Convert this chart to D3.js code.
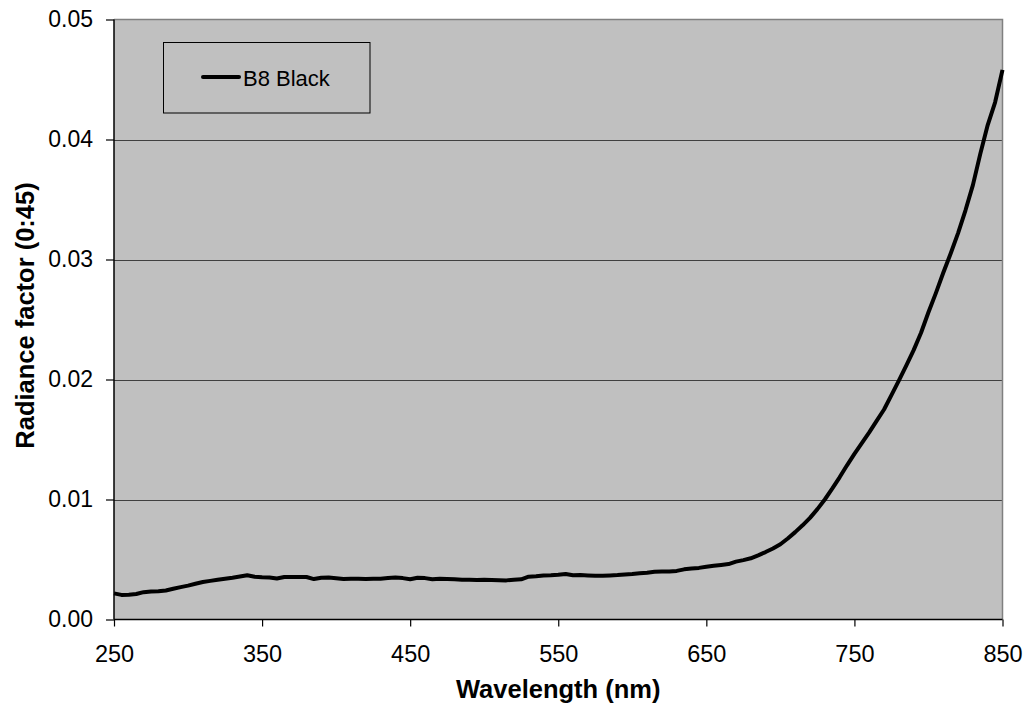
<!DOCTYPE html>
<html>
<head>
<meta charset="utf-8">
<script src="https://cdn.jsdelivr.net/npm/d3@7"></script>
<style>
  html, body { margin: 0; padding: 0; background: #fff; }
  svg { display: block; }
  text { font-family: "Liberation Sans", Arial, sans-serif; fill: #000; }
</style>
</head>
<body>
<svg id="chart" width="1027" height="713"></svg>
<script>
// ---- Data ----
const wavelengths = d3.range(250, 851, 5);
const radiance = [
  0.00218, 0.00205, 0.00207, 0.00212, 0.00228, 0.00234, 0.00235, 0.00242, 0.00256, 0.00270,
  0.00282, 0.00298, 0.00312, 0.00322, 0.00332, 0.00340, 0.00348, 0.00358, 0.00368, 0.00357,
  0.00352, 0.00350, 0.00342, 0.00354, 0.00354, 0.00355, 0.00354, 0.00337, 0.00348, 0.00350,
  0.00344, 0.00337, 0.00340, 0.00340, 0.00338, 0.00340, 0.00340, 0.00345, 0.00350, 0.00345,
  0.00335, 0.00348, 0.00345, 0.00335, 0.00340, 0.00338, 0.00335, 0.00332, 0.00332, 0.00330,
  0.00332, 0.00330, 0.00328, 0.00326, 0.00332, 0.00335, 0.00357, 0.00360, 0.00366, 0.00368,
  0.00372, 0.00379, 0.00368, 0.00370, 0.00367, 0.00365, 0.00365, 0.00367, 0.00370, 0.00375,
  0.00379, 0.00385, 0.00390, 0.00398, 0.00400, 0.00400, 0.00405, 0.00418, 0.00425, 0.00430,
  0.00440, 0.00448, 0.00455, 0.00462, 0.00482, 0.00495, 0.00510, 0.00535, 0.00562, 0.00592,
  0.00627, 0.00675, 0.00728, 0.00785, 0.00847, 0.00920, 0.01000, 0.01090, 0.01185, 0.01285,
  0.01380, 0.01470, 0.01560, 0.01655, 0.01750, 0.01870, 0.01990, 0.02115, 0.02245, 0.02390,
  0.02560, 0.02720, 0.02890, 0.03050, 0.03220, 0.03410, 0.03620, 0.03880, 0.04120, 0.04310,
  0.04580
];
const xTicks = [250, 350, 450, 550, 650, 750, 850];
const yTicks = [0, 0.01, 0.02, 0.03, 0.04, 0.05];
const seriesName = "B8 Black";
const xTitle = "Wavelength (nm)";
const yTitle = "Radiance factor (0:45)";

// ---- Layout ----
const L = 114, R = 1002.5, T = 19.5, B = 619.5;
const svg = d3.select("#chart");

const x = d3.scaleLinear().domain([250, 850]).range([L, R]);
const y = d3.scaleLinear().domain([0, 0.05]).range([B, T]);

// plot background
svg.append("rect").attr("x", L).attr("y", T).attr("width", R - L).attr("height", B - T)
  .attr("fill", "#c0c0c0");

// gridlines
svg.append("g").selectAll("line").data(yTicks.filter(d => d > 0 && d < 0.05)).join("line")
  .attr("x1", L).attr("x2", R)
  .attr("y1", d => Math.round(y(d)) + 0.5).attr("y2", d => Math.round(y(d)) + 0.5)
  .attr("stroke", "#404040").attr("stroke-width", 1);

// top/right border
svg.append("path")
  .attr("d", `M${L},${T}H${R}V${B}`)
  .attr("fill", "none").attr("stroke", "#808080").attr("stroke-width", 1.5);

// line
const line = d3.line().x((d, i) => x(wavelengths[i])).y(d => y(d)).curve(d3.curveLinear);
svg.append("path").datum(radiance)
  .attr("d", line)
  .attr("fill", "none").attr("stroke", "#000").attr("stroke-width", 4)
  .attr("stroke-linejoin", "round").attr("stroke-linecap", "butt");

// axes
const xAxis = d3.axisBottom(x).tickValues(xTicks).tickSize(7).tickPadding(20).tickFormat(d3.format("d"));
const gx = svg.append("g").attr("transform", `translate(0,${B})`).call(xAxis);
gx.select(".domain").attr("stroke", "#000").attr("stroke-width", 1.5).attr("d", `M${L},0H${R}`);
gx.selectAll(".tick line").attr("stroke", "#000").attr("stroke-width", 1.2);
gx.selectAll(".tick text").attr("font-size", 23.5).attr("font-family", "Liberation Sans, Arial, sans-serif")
  .attr("fill", "#000").attr("dy", "0.71em").attr("y", 26);

const yAxis = d3.axisLeft(y).tickValues(yTicks).tickSize(8).tickPadding(13).tickFormat(d3.format(".2f"));
const gy = svg.append("g").attr("transform", `translate(${L},0)`).call(yAxis);
gy.select(".domain").attr("stroke", "#000").attr("stroke-width", 1.5).attr("d", `M0,${T}V${B}`);
gy.selectAll(".tick line").attr("stroke", "#000").attr("stroke-width", 1.2);
gy.selectAll(".tick text").attr("font-size", 23).attr("font-family", "Liberation Sans, Arial, sans-serif")
  .attr("fill", "#000");

// axis titles
svg.append("text").attr("x", (L + R) / 2).attr("y", 698)
  .attr("text-anchor", "middle").attr("font-size", 25.5).attr("font-weight", "bold")
  .text(xTitle);
svg.append("text").attr("transform", `translate(34,${(T + B) / 2 - 4}) rotate(-90)`)
  .attr("text-anchor", "middle").attr("font-size", 25.5).attr("font-weight", "bold")
  .text(yTitle);

// legend
const lg = svg.append("g");
lg.append("rect").attr("x", 163.5).attr("y", 42.5).attr("width", 206.5).attr("height", 70.5)
  .attr("fill", "#c0c0c0").attr("stroke", "#000").attr("stroke-width", 1);
lg.append("line").attr("x1", 203).attr("x2", 239).attr("y1", 77).attr("y2", 77)
  .attr("stroke", "#000").attr("stroke-width", 4).attr("stroke-linecap", "round");
lg.append("text").attr("x", 243).attr("y", 78).attr("dy", "0.35em")
  .attr("font-size", 22).text(seriesName);
</script>
</body>
</html>
